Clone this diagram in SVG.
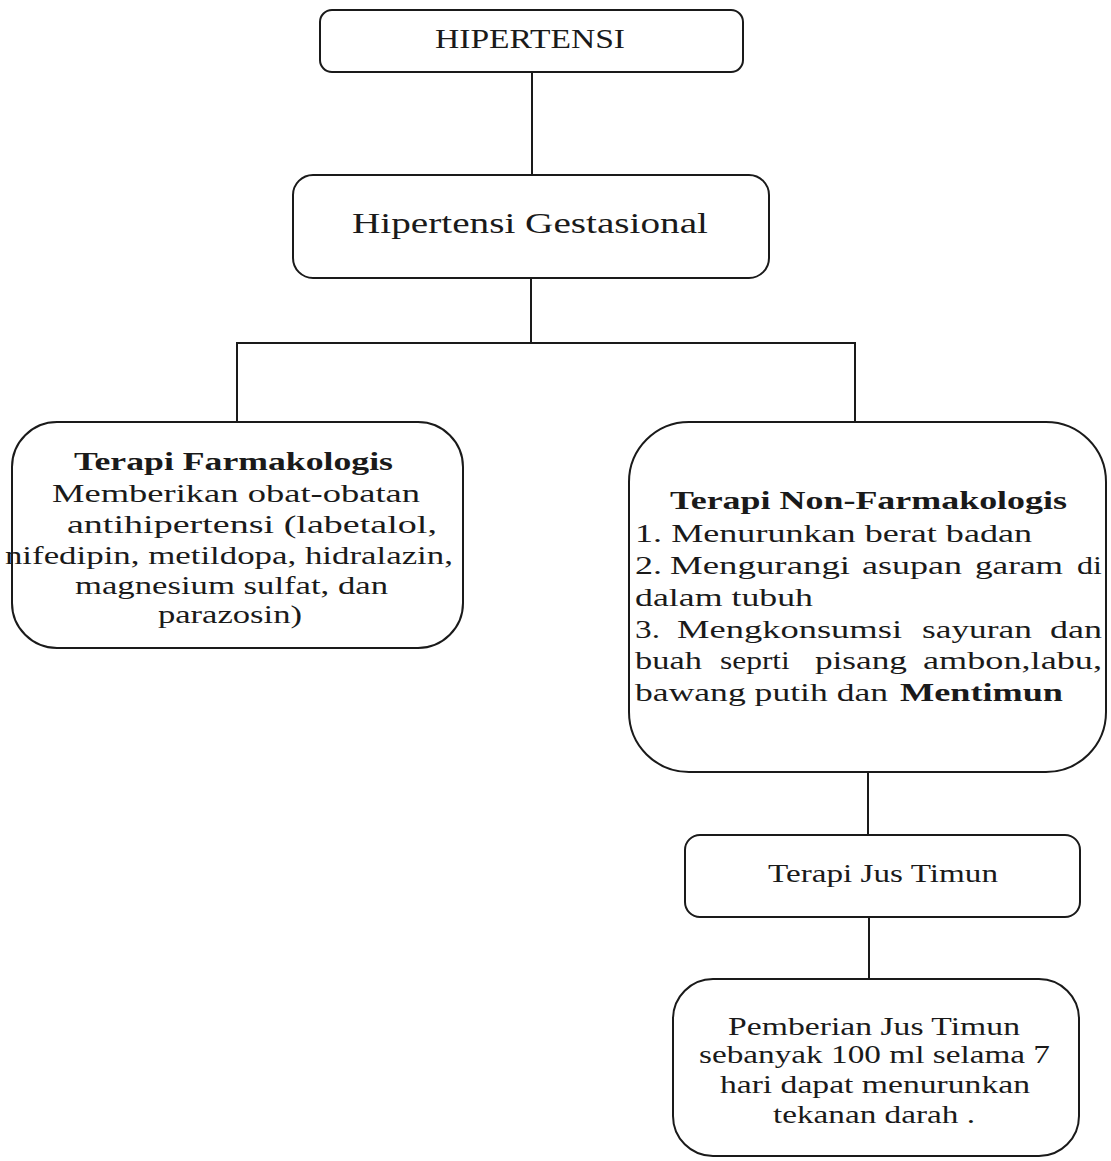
<svg xmlns="http://www.w3.org/2000/svg" width="1111" height="1161" viewBox="0 0 1111 1161">
<style>
.box{fill:#fff;stroke:#1a1a1a;stroke-width:2}
.conn{fill:none;stroke:#1a1a1a;stroke-width:2}
text{font-family:"Liberation Serif","Times New Roman",serif;fill:#1a1a1a;font-size:26px}
.b{font-weight:bold}
</style>
<rect width="1111" height="1161" fill="#fff"/>
<g id="connectors">
<line class="conn" x1="532" y1="72" x2="532" y2="175"/>
<path class="conn" d="M531 278 V343 M237 343 H855 M237 342 V422 M855 342 V422"/>
<line class="conn" x1="868" y1="772" x2="868" y2="835"/>
<line class="conn" x1="869" y1="917" x2="869" y2="979"/>
</g>
<g id="n-hipertensi">
<rect class="box" x="320" y="10" width="423" height="62" rx="12"/>
<g transform="scale(1.3,1)"><text x="334.6" y="48" textLength="146.2" lengthAdjust="spacingAndGlyphs" style="font-size:28px">HIPERTENSI</text></g>
</g>
<g id="n-gestasional">
<rect class="box" x="293" y="175" width="476" height="103" rx="20"/>
<g transform="scale(1.3,1)"><text x="270.8" y="233" textLength="273.8" lengthAdjust="spacingAndGlyphs" style="font-size:30px">Hipertensi Gestasional</text></g>
</g>
<g id="n-farmakologis">
<rect class="box" x="12" y="422" width="451" height="226" rx="45"/>
<g transform="scale(1.3,1)">
<text class="b" x="56.9" y="470" textLength="245.4" lengthAdjust="spacingAndGlyphs">Terapi Farmakologis</text>
<text x="40" y="502" textLength="283.1" lengthAdjust="spacingAndGlyphs">Memberikan obat-obatan</text>
<text x="51.5" y="533" textLength="284.6" lengthAdjust="spacingAndGlyphs">antihipertensi (labetalol,</text>
<text x="3.8" y="564" textLength="344.6" lengthAdjust="spacingAndGlyphs">nifedipin, metildopa, hidralazin,</text>
<text x="57.7" y="594" textLength="240.8" lengthAdjust="spacingAndGlyphs">magnesium sulfat, dan</text>
<text x="121.5" y="623" textLength="110.8" lengthAdjust="spacingAndGlyphs">parazosin)</text>
</g>
</g>
<g id="n-nonfarmakologis">
<rect class="box" x="629" y="422" width="477" height="350" rx="60"/>
<g transform="scale(1.3,1)">
<text class="b" x="515.4" y="509" textLength="305.4" lengthAdjust="spacingAndGlyphs">Terapi Non-Farmakologis</text>
<text x="488.5" y="542" textLength="305.4" lengthAdjust="spacingAndGlyphs">1. Menurunkan berat badan</text>
<text x="488.5" y="574" textLength="20.8" lengthAdjust="spacingAndGlyphs">2.</text>
<text x="515.4" y="574" textLength="138.5" lengthAdjust="spacingAndGlyphs">Mengurangi</text>
<text x="663.1" y="574" textLength="76.9" lengthAdjust="spacingAndGlyphs">asupan</text>
<text x="750" y="574" textLength="67.7" lengthAdjust="spacingAndGlyphs">garam</text>
<text x="828.5" y="574" textLength="19.2" lengthAdjust="spacingAndGlyphs">di</text>
<text x="488.5" y="606" textLength="136.9" lengthAdjust="spacingAndGlyphs">dalam tubuh</text>
<text x="488.5" y="638" textLength="19.2" lengthAdjust="spacingAndGlyphs">3.</text>
<text x="520.8" y="638" textLength="173.1" lengthAdjust="spacingAndGlyphs">Mengkonsumsi</text>
<text x="709.2" y="638" textLength="84.6" lengthAdjust="spacingAndGlyphs">sayuran</text>
<text x="807.7" y="638" textLength="40" lengthAdjust="spacingAndGlyphs">dan</text>
<text x="488.5" y="669" textLength="51.5" lengthAdjust="spacingAndGlyphs">buah</text>
<text x="553.8" y="669" textLength="53.8" lengthAdjust="spacingAndGlyphs">seprti</text>
<text x="626.9" y="669" textLength="70.8" lengthAdjust="spacingAndGlyphs">pisang</text>
<text x="710" y="669" textLength="137.7" lengthAdjust="spacingAndGlyphs">ambon,labu,</text>
<text x="488.5" y="701" textLength="194.6" lengthAdjust="spacingAndGlyphs">bawang putih dan</text>
<text class="b" x="692.3" y="701" textLength="125.4" lengthAdjust="spacingAndGlyphs">Mentimun</text>
</g>
</g>
<g id="n-jus">
<rect class="box" x="685" y="835" width="395" height="82" rx="15"/>
<g transform="scale(1.3,1)"><text x="590.8" y="882" textLength="176.9" lengthAdjust="spacingAndGlyphs" style="font-size:25px">Terapi Jus Timun</text></g>
</g>
<g id="n-pemberian">
<rect class="box" x="673" y="979" width="406" height="177" rx="40"/>
<g transform="scale(1.3,1)">
<text x="560" y="1035" textLength="224.6" lengthAdjust="spacingAndGlyphs">Pemberian Jus Timun</text>
<text x="537.7" y="1063" textLength="270" lengthAdjust="spacingAndGlyphs">sebanyak 100 ml selama 7</text>
<text x="553.8" y="1093" textLength="238.5" lengthAdjust="spacingAndGlyphs">hari dapat menurunkan</text>
<text x="594.6" y="1123" textLength="155.4" lengthAdjust="spacingAndGlyphs">tekanan darah .</text>
</g>
</g>
</svg>
